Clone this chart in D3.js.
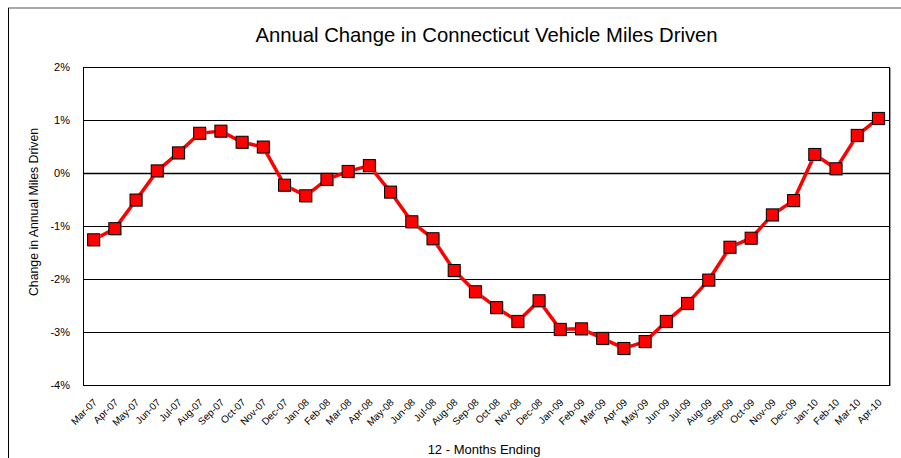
<!DOCTYPE html>
<html>
<head>
<meta charset="utf-8">
<script src="https://cdn.jsdelivr.net/npm/d3@7"></script>
<style>
  body { margin: 0; background: #fff; }
  text { font-family: "Liberation Sans", Arial, sans-serif; fill: #000; }
</style>
</head>
<body>
<svg id="chart" width="901" height="458"></svg>
<script>
// months ending (x categories)
var months = ['Mar-07','Apr-07','May-07','Jun-07','Jul-07','Aug-07','Sep-07','Oct-07','Nov-07','Dec-07',
  'Jan-08','Feb-08','Mar-08','Apr-08','May-08','Jun-08','Jul-08','Aug-08','Sep-08','Oct-08','Nov-08','Dec-08',
  'Jan-09','Feb-09','Mar-09','Apr-09','May-09','Jun-09','Jul-09','Aug-09','Sep-09','Oct-09','Nov-09','Dec-09',
  'Jan-10','Feb-10','Mar-10','Apr-10'];
// annual change in vehicle miles driven, percent
var change = [-1.26, -1.05, -0.51, 0.04, 0.38, 0.75, 0.79, 0.58, 0.49, -0.23,
  -0.43, -0.12, 0.03, 0.14, -0.36, -0.92, -1.24, -1.84, -2.24, -2.54, -2.80, -2.41,
  -2.95, -2.94, -3.12, -3.31, -3.18, -2.80, -2.46, -2.02, -1.40, -1.23, -0.79, -0.52,
  0.35, 0.08, 0.71, 1.03];
var yTicks = [2, 1, 0, -1, -2, -3, -4];

var svg = d3.select('#chart');
var M = { left: 83, right: 889, top: 67, bottom: 385 };

// outer chart frame (only top and left edges are in view)
svg.append('line').attr('x1', 8).attr('x2', 901).attr('y1', 8).attr('y2', 8)
  .attr('stroke', '#555').attr('stroke-width', 1.2);
svg.append('line').attr('x1', 8.5).attr('x2', 8.5).attr('y1', 8).attr('y2', 458)
  .attr('stroke', '#000').attr('stroke-width', 1);

var x = d3.scaleBand().domain(months).range([M.left, M.right]);
var y = d3.scaleLinear().domain([-4, 2]).range([M.bottom, M.top]);

svg.append('text')
  .attr('x', 486.5).attr('y', 42)
  .attr('text-anchor', 'middle')
  .style('font-size', '20.3px')
  .text('Annual Change in Connecticut Vehicle Miles Driven');

// grid lines
svg.append('g').selectAll('line')
  .data(yTicks)
  .enter().append('line')
  .attr('x1', M.left).attr('x2', M.right)
  .attr('y1', function(d) { return Math.round(y(d)) + 0.5; })
  .attr('y2', function(d) { return Math.round(y(d)) + 0.5; })
  .attr('stroke', '#000')
  .attr('stroke-width', function(d) { return d === 0 ? 1.6 : 1; });

// plot border with a soft shadow on the right
svg.append('line').attr('x1', M.right + 1.5).attr('x2', M.right + 1.5)
  .attr('y1', M.top + 1).attr('y2', M.bottom + 1)
  .attr('stroke', '#999').attr('stroke-width', 1);
svg.append('rect')
  .attr('x', M.left + 0.5).attr('y', M.top + 0.5)
  .attr('width', M.right - M.left).attr('height', M.bottom - M.top)
  .attr('fill', 'none').attr('stroke', '#000').attr('stroke-width', 1);

// y axis labels
var yAxis = d3.axisLeft(y).tickValues(yTicks).tickSize(0).tickPadding(13)
  .tickFormat(function(d) { return d + '%'; });
var gy = svg.append('g').attr('transform', 'translate(' + M.left + ',0)').call(yAxis);
gy.select('.domain').remove();
gy.selectAll('text').style('font-size', '11px').style('font-family', '"Liberation Sans", Arial, sans-serif');

// x axis labels
var xAxis = d3.axisBottom(x).tickSize(0).tickPadding(0);
var gx = svg.append('g').attr('transform', 'translate(0,' + M.bottom + ')').call(xAxis);
gx.select('.domain').remove();
gx.selectAll('text')
  .style('font-size', '10px')
  .style('font-family', '"Liberation Sans", Arial, sans-serif')
  .attr('text-anchor', 'end')
  .attr('dy', null)
  .attr('y', 0)
  .attr('transform', 'translate(4,18) rotate(-45)');

svg.append('text')
  .attr('transform', 'translate(38,212) rotate(-90)')
  .attr('text-anchor', 'middle')
  .style('font-size', '12.3px')
  .text('Change in Annual Miles Driven');

svg.append('text')
  .attr('x', 484).attr('y', 454)
  .attr('text-anchor', 'middle')
  .style('font-size', '13px')
  .text('12 - Months Ending');

// series line
var line = d3.line()
  .x(function(d, i) { return x(months[i]) + x.bandwidth() / 2; })
  .y(function(d) { return y(d); });
svg.append('path').datum(change)
  .attr('d', line)
  .attr('fill', 'none')
  .attr('stroke', '#ff0000')
  .attr('stroke-width', 3.5)
  .attr('stroke-linejoin', 'round');

// markers with shadow
var pts = svg.append('g').selectAll('g')
  .data(change)
  .enter().append('g')
  .attr('transform', function(d, i) {
    return 'translate(' + (x(months[i]) + x.bandwidth() / 2) + ',' + y(d) + ')';
  });
pts.append('rect')
  .attr('x', -5).attr('y', -5).attr('width', 12).attr('height', 12)
  .attr('fill', '#999').attr('opacity', 0.7);
pts.append('rect')
  .attr('x', -6).attr('y', -6).attr('width', 12).attr('height', 12)
  .attr('fill', '#ff0000').attr('stroke', '#000').attr('stroke-width', 1);
</script>
</body>
</html>
